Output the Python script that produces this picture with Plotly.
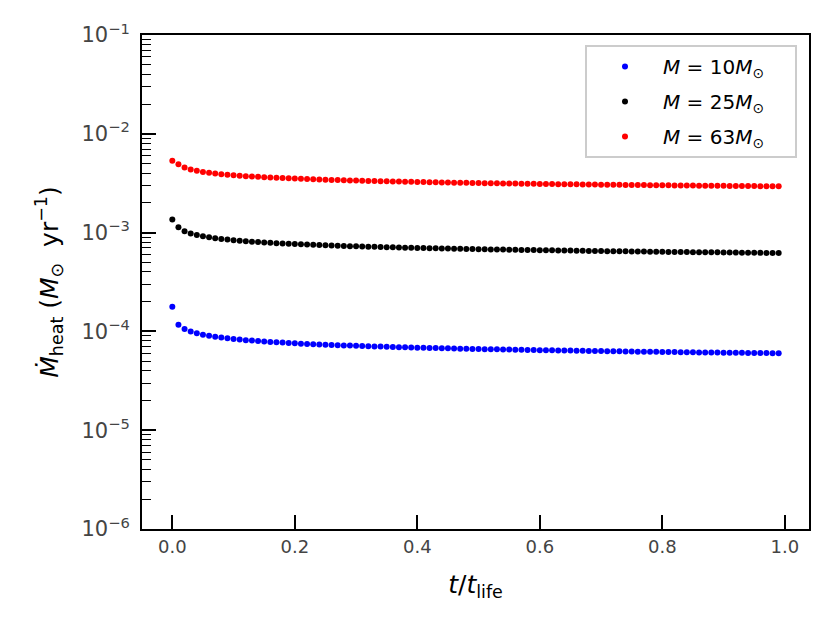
import plotly.graph_objects as go

# t / t_life sampling grid
t_frac = [0.00, 0.01, 0.02, 0.03, 0.04, 0.05, 0.06, 0.07, 0.08, 0.09,
          0.10, 0.11, 0.12, 0.13, 0.14, 0.15, 0.16, 0.17, 0.18, 0.19,
          0.20, 0.21, 0.22, 0.23, 0.24, 0.25, 0.26, 0.27, 0.28, 0.29,
          0.30, 0.31, 0.32, 0.33, 0.34, 0.35, 0.36, 0.37, 0.38, 0.39,
          0.40, 0.41, 0.42, 0.43, 0.44, 0.45, 0.46, 0.47, 0.48, 0.49,
          0.50, 0.51, 0.52, 0.53, 0.54, 0.55, 0.56, 0.57, 0.58, 0.59,
          0.60, 0.61, 0.62, 0.63, 0.64, 0.65, 0.66, 0.67, 0.68, 0.69,
          0.70, 0.71, 0.72, 0.73, 0.74, 0.75, 0.76, 0.77, 0.78, 0.79,
          0.80, 0.81, 0.82, 0.83, 0.84, 0.85, 0.86, 0.87, 0.88, 0.89,
          0.90, 0.91, 0.92, 0.93, 0.94, 0.95, 0.96, 0.97, 0.98, 0.99]

# Mdot_heat in units of 1e-6 Msun/yr
mdot_10 = [178, 117.0, 105.8, 99.8, 95.7, 92.6, 90.2, 88.2, 86.6, 85.1,
           83.8, 82.6, 81.6, 80.7, 79.8, 79.0, 78.3, 77.6, 77.0, 76.3,
           75.8, 75.2, 74.7, 74.2, 73.8, 73.4, 72.9, 72.6, 72.2, 71.8,
           71.5, 71.1, 70.8, 70.4, 70.2, 69.9, 69.6, 69.3, 69.0, 68.8,
           68.5, 68.3, 68.0, 67.8, 67.6, 67.4, 67.2, 66.9, 66.7, 66.5,
           66.3, 66.1, 66.0, 65.8, 65.6, 65.4, 65.3, 65.1, 64.9, 64.8,
           64.6, 64.5, 64.3, 64.2, 64.0, 63.9, 63.7, 63.6, 63.4, 63.3,
           63.2, 63.1, 62.9, 62.8, 62.7, 62.6, 62.4, 62.3, 62.2, 62.1,
           62.0, 61.9, 61.8, 61.6, 61.5, 61.4, 61.3, 61.2, 61.1, 61.0,
           60.9, 60.8, 60.7, 60.7, 60.5, 60.5, 60.4, 60.3, 60.2, 60.1]

mdot_25 = [1360, 1130, 1033, 980, 944, 917, 895, 877, 862, 849,
           838, 828, 818, 810, 802, 795, 788, 782, 776, 771,
           766, 761, 756, 752, 748, 744, 740, 736, 733, 729,
           726, 723, 720, 717, 715, 712, 709, 707, 704, 702,
           699, 697, 695, 693, 691, 689, 687, 685, 683, 681,
           679, 678, 676, 675, 673, 671, 670, 668, 667, 665,
           664, 662, 661, 659, 658, 657, 655, 654, 653, 652,
           650, 649, 648, 647, 646, 645, 643, 642, 641, 640,
           639, 638, 637, 636, 635, 634, 633, 632, 631, 631,
           630, 629, 628, 627, 626, 625, 624, 623, 623, 622]

mdot_63 = [5330, 4930, 4560, 4357, 4219, 4114, 4031, 3961, 3902, 3851,
           3806, 3766, 3728, 3695, 3665, 3636, 3609, 3585, 3562, 3540,
           3519, 3501, 3482, 3464, 3448, 3432, 3417, 3403, 3389, 3375,
           3362, 3350, 3338, 3326, 3316, 3305, 3294, 3284, 3274, 3265,
           3256, 3246, 3238, 3230, 3222, 3212, 3204, 3197, 3190, 3182,
           3175, 3167, 3161, 3154, 3147, 3141, 3134, 3128, 3123, 3117,
           3111, 3105, 3099, 3094, 3088, 3082, 3077, 3072, 3067, 3062,
           3057, 3053, 3048, 3043, 3038, 3033, 3029, 3024, 3020, 3015,
           3011, 3007, 3003, 2999, 2995, 2991, 2987, 2982, 2979, 2975,
           2972, 2968, 2964, 2961, 2957, 2954, 2950, 2947, 2943, 2939]

series_names = ["<i>M</i> = 10<i>M</i><sub>⊙</sub>",
                "<i>M</i> = 25<i>M</i><sub>⊙</sub>",
                "<i>M</i> = 63<i>M</i><sub>⊙</sub>"]
series_colors = ["#0000ff", "#000000", "#ff0000"]

x_ticks = [0.0, 0.2, 0.4, 0.6, 0.8, 1.0]
x_ticktext = ["0.0", "0.2", "0.4", "0.6", "0.8", "1.0"]
y_ticks = [1e-6, 1e-5, 1e-4, 1e-3, 1e-2, 1e-1]
y_ticktext = ["10<sup>−6</sup>", "10<sup>−5</sup>", "10<sup>−4</sup>",
              "10<sup>−3</sup>", "10<sup>−2</sup>", "10<sup>−1</sup>"]
y_minor = [m * 10.0 ** e for e in range(-6, -1) for m in range(2, 10)]

fig = go.Figure()
for i, (name, color, vals) in enumerate(zip(series_names, series_colors,
                                             [mdot_10, mdot_25, mdot_63])):
    fig.add_trace(go.Scatter(
        x=t_frac, y=[v * 1e-6 for v in vals], mode="markers",
        name=name + "\u00a0\u00a0\u00a0\u00a0",
        legendgroup=f"g{i}",
        marker=dict(color=color, size=6, line=dict(width=0)),
    ))

x_tick_font = dict(family="DejaVu Sans", size=18, color="#444444")
y_tick_font = dict(family="DejaVu Sans", size=21, color="#444444")
fig.update_layout(
    width=831, height=626,
    margin=dict(l=134, r=30, t=25, b=105),
    paper_bgcolor="white", plot_bgcolor="white",
    font=dict(family="DejaVu Sans", color="black"),
    showlegend=True,
    legend=dict(x=0.982, y=0.98, xanchor="right", yanchor="top",
                bgcolor="white", bordercolor="#cccccc", borderwidth=2,
                font=dict(size=20, family="DejaVu Sans", color="black"),
                itemsizing="trace", tracegroupgap=6, itemwidth=66),
    xaxis=dict(range=[-0.0495, 1.0395], tickvals=x_ticks, ticktext=x_ticktext,
               ticks="inside", ticklen=14, tickwidth=1.5, tickcolor="black",
               showline=True, linecolor="black", linewidth=2, mirror=True,
               showgrid=False, zeroline=False, tickfont=x_tick_font,
               title=dict(text="<i>t</i>/<i>t</i><sub>life</sub>",
                          font=dict(size=25, family="DejaVu Sans", color="black"),
                          standoff=20)),
    yaxis=dict(type="log", range=[-6, -1], tickvals=y_ticks, ticktext=y_ticktext,
               ticks="inside", ticklen=14, tickwidth=1.5, tickcolor="black",
               ticklabelstandoff=6,
               minor=dict(tickvals=y_minor, ticks="inside", ticklen=9,
                          tickwidth=1.2, tickcolor="black", showgrid=False),
               showline=True, linecolor="black", linewidth=2, mirror=True,
               showgrid=False, zeroline=False, tickfont=y_tick_font,
               title=dict(text="<i>Ṁ</i><sub>heat</sub> (<i>M</i><sub>⊙</sub>\u00a0\u00a0yr<sup>−1</sup>)",
                          font=dict(size=25, family="DejaVu Sans", color="black"),
                          standoff=16)),
)

fig.write_html("out.html")
